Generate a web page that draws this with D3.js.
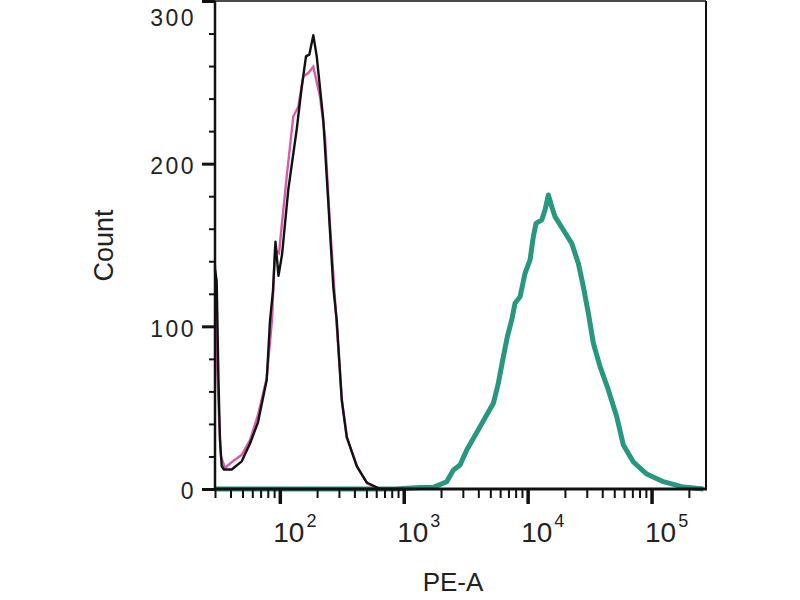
<!DOCTYPE html>
<html>
<head>
<meta charset="utf-8">
<script src="https://cdn.jsdelivr.net/npm/d3@7"></script>
<style>
  body { margin: 0; background: #fff; }
  #wrapper { width: 800px; height: 600px; }
  text { font-family: "Liberation Sans", Arial, sans-serif; fill: #222; }
</style>
</head>
<body>
<div id="wrapper"></div>
<script>
// black overlay (control) - PE-A channel values and counts
const controlX = [30, 30.95, 32.0, 32.9, 34.0, 35.4, 40.9, 49.3, 57.5, 66.7, 78.4, 83.3, 88.1, 92.3, 97.6, 104.2, 117.1, 136.9, 150.3, 162.7, 173, 186.4, 198.6, 224.4, 246.3, 270.3, 287.9, 316, 346.7, 417.6, 502.7, 643.8, 1000]
const controlCount = [135, 128, 67, 30, 14, 12, 12, 17, 28, 41, 67, 103, 122, 152, 131, 144, 184, 221, 247, 266, 267, 279, 266, 227, 176, 124, 104, 55, 32, 14, 4, 0, 0]

// pink overlay
const blankX = [30, 31.1, 32.5, 33.5, 36.1, 41.1, 49.3, 57.5, 66.7, 78.4, 86.5, 91.5, 98.5, 113.7, 128.5, 141, 154.8, 169.8, 186.4, 211.1, 231.6, 254.2, 284.2, 317.7, 348.6, 422.7, 507.5, 643.8, 1000]
const blankCount = [138, 80, 40, 20, 13, 16.6, 21, 30, 45.5, 68, 104, 147, 145, 192, 229, 235, 253.5, 255.7, 259.6, 241.2, 216.6, 162.3, 107, 53.5, 31.4, 13.5, 3.4, 0, 0]

// teal (stained sample)
const stainedX = [30, 851, 1354, 1734, 2223, 2514, 2848, 3225, 4129, 5288, 5801, 6368, 6859, 7441, 7913, 8686, 9528, 10457, 11117, 11687, 12994, 13819, 14695, 15651, 16637, 19417, 22693, 25660, 28150, 30898, 33912, 38398, 44800, 52370, 59210, 71300, 91500, 124500, 180600, 262144]
const stainedCount = [0, 0, 0.9, 1, 4.5, 11.7, 14.8, 24, 38.3, 52.7, 65, 81.3, 93.6, 103.9, 114.2, 118.2, 132.6, 140.8, 155.1, 163.3, 165.4, 171.5, 180.7, 173.5, 167.4, 159.2, 151, 138.7, 124.4, 108, 89.6, 75.2, 60.9, 44.4, 27, 16.6, 9.2, 4.5, 1.2, 0]

const xMajorTicks = [100, 1000, 10000, 100000]
const xTickExponents = ["2", "3", "4", "5"]
const yMajorTicks = [0, 100, 200, 300]
const xLabel = "PE-A"
const yLabel = "Count"

function drawHistogram() {
  const toPoints = (xs, ys) => xs.map((x, i) => ({ x, y: ys[i] }))
  const xAccessor = (d) => d.x
  const yAccessor = (d) => d.y

  // dimensions
  let dimensions = {
    width: 800,
    height: 600,
    margins: { top: 1, right: 94, bottom: 111, left: 215 },
  }
  dimensions.boundedWidth =
    dimensions.width - dimensions.margins.left - dimensions.margins.right
  dimensions.boundedHeight =
    dimensions.height - dimensions.margins.top - dimensions.margins.bottom

  const wrapper = d3
    .select("#wrapper")
    .append("svg")
    .attr("width", dimensions.width)
    .attr("height", dimensions.height)

  const bounds = wrapper
    .append("g")
    .attr("transform", `translate(${dimensions.margins.left},${dimensions.margins.top})`)

  // scales
  const xScale = d3
    .scaleLog()
    .domain([30, 275000])
    .range([0, dimensions.boundedWidth])

  const yScale = d3
    .scaleLinear()
    .domain([0, 300])
    .range([dimensions.boundedHeight, 0])

  const lineGenerator = d3
    .line()
    .x((d) => xScale(xAccessor(d)))
    .y((d) => yScale(yAccessor(d)))

  // histograms
  bounds.append("path")
    .attr("d", lineGenerator(toPoints(stainedX, stainedCount)))
    .attr("fill", "none")
    .attr("stroke", "#27977f")
    .attr("stroke-width", 5)
    .attr("stroke-linejoin", "round")

  bounds.append("path")
    .attr("d", lineGenerator(toPoints(blankX, blankCount)))
    .attr("fill", "none")
    .attr("stroke", "#cf3f98")
    .attr("stroke-width", 2.4)
    .attr("stroke-opacity", 0.85)

  bounds.append("path")
    .attr("d", lineGenerator(toPoints(controlX, controlCount)))
    .attr("fill", "none")
    .attr("stroke", "#111")
    .attr("stroke-width", 2.4)
    .attr("stroke-linejoin", "round")

  // frame
  const frame = bounds.append("g").attr("stroke", "#111")
  frame.append("line")
    .attr("x1", 0).attr("x2", dimensions.boundedWidth)
    .attr("y1", 0).attr("y2", 0)
    .attr("stroke-width", 1.5)
  frame.append("line")
    .attr("x1", dimensions.boundedWidth).attr("x2", dimensions.boundedWidth)
    .attr("y1", 0).attr("y2", dimensions.boundedHeight)
    .attr("stroke-width", 2)
  frame.append("line")
    .attr("x1", 0).attr("x2", 0)
    .attr("y1", 0).attr("y2", dimensions.boundedHeight + 1)
    .attr("stroke-width", 2.5)
  frame.append("line")
    .attr("x1", 0).attr("x2", dimensions.boundedWidth + 1)
    .attr("y1", dimensions.boundedHeight).attr("y2", dimensions.boundedHeight)
    .attr("stroke-width", 3)

  // x axis ticks
  const xMinorTicks = xScale.ticks().filter((d) => !xMajorTicks.includes(d))
  const xMinorAxis = d3.axisBottom(xScale).tickValues(xMinorTicks).tickSize(9).tickFormat("")
  const xMajorAxis = d3.axisBottom(xScale).tickValues(xMajorTicks).tickSize(15).tickFormat("")

  const xAxisMinor = bounds.append("g")
    .attr("transform", `translate(0,${dimensions.boundedHeight})`)
    .call(xMinorAxis)
  xAxisMinor.select(".domain").remove()
  xAxisMinor.selectAll("line").attr("stroke", "#111").attr("stroke-width", 2)

  const xAxisMajor = bounds.append("g")
    .attr("transform", `translate(0,${dimensions.boundedHeight})`)
    .call(xMajorAxis)
  xAxisMajor.select(".domain").remove()
  xAxisMajor.selectAll("line").attr("stroke", "#111").attr("stroke-width", 3.5)

  // powers of ten labels
  const xLabels = bounds.append("g")
    .selectAll("text")
    .data(xMajorTicks)
    .join("text")
    .attr("x", (d) => xScale(d) - 6.5)
    .attr("y", dimensions.boundedHeight + 53)
    .style("font-size", "28px")
  xLabels.append("tspan").text("10")
  xLabels.append("tspan")
    .attr("dx", 2)
    .attr("dy", -15)
    .style("font-size", "18px")
    .text((d, i) => xTickExponents[i])

  // y axis ticks
  const yMinorAxis = d3.axisLeft(yScale)
    .tickValues(yScale.ticks(12).filter((d) => !yMajorTicks.includes(d)))
    .tickSize(6)
    .tickFormat("")
  const yMajorAxis = d3.axisLeft(yScale)
    .tickValues(yMajorTicks)
    .tickSize(13)
    .tickPadding(6)
    .tickFormat(d3.format("d"))

  const yAxisMinor = bounds.append("g").call(yMinorAxis)
  yAxisMinor.select(".domain").remove()
  yAxisMinor.selectAll("line").attr("stroke", "#111").attr("stroke-width", 2)

  const yAxisMajor = bounds.append("g").call(yMajorAxis)
  yAxisMajor.select(".domain").remove()
  yAxisMajor.selectAll("line").attr("stroke", "#111").attr("stroke-width", 3)
  yAxisMajor.selectAll("text")
    .attr("fill", "#222")
    .attr("dy", "0.42em")
    .style("font-size", "23px")
    .style("letter-spacing", "2.5px")
    .style("font-family", "'Liberation Sans', Arial, sans-serif")
  // top label is pushed down so it stays inside the picture
  yAxisMajor.selectAll("text")
    .filter((d) => d === 300)
    .attr("dy", "1.05em")

  // axis titles
  wrapper.append("text")
    .attr("x", dimensions.margins.left + xScale(2500))
    .attr("y", 591)
    .attr("text-anchor", "middle")
    .style("font-size", "26px")
    .text(xLabel)

  wrapper.append("text")
    .attr("transform", `translate(113,${dimensions.margins.top + yScale(150) + 0.5}) rotate(-90)`)
    .attr("text-anchor", "middle")
    .style("font-size", "27px")
    .text(yLabel)
}

drawHistogram()
</script>
</body>
</html>
